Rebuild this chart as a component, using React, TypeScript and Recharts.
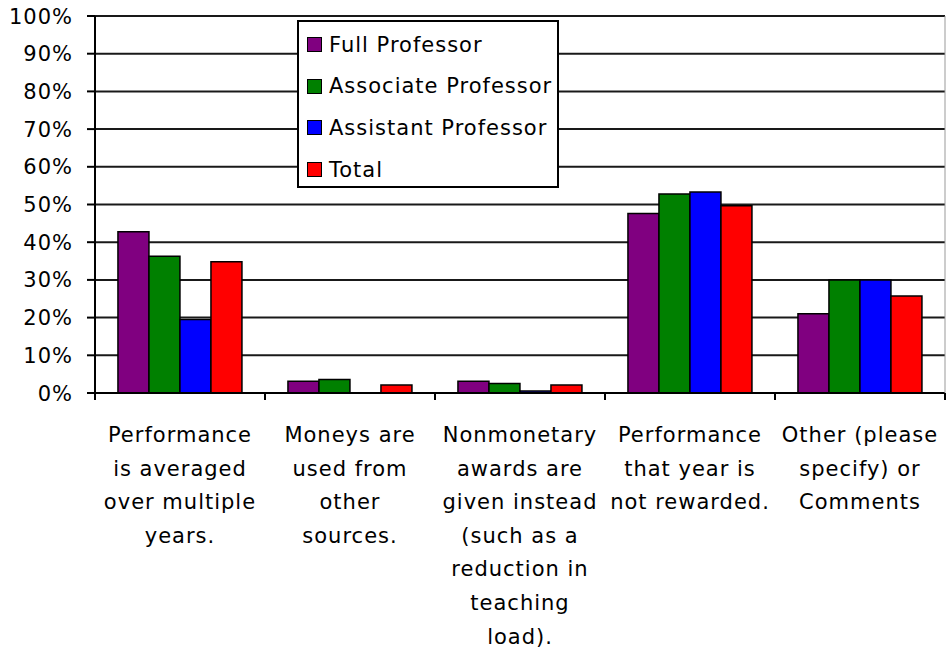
import React from "react";
import { BarChart, Bar, XAxis, YAxis, CartesianGrid, Legend } from "recharts";

const categories = [
  "Performance is averaged over multiple years.",
  "Moneys are used from other sources.",
  "Nonmonetary awards are given instead (such as a reduction in teaching load).",
  "Performance that year is not rewarded.",
  "Other (please specify) or Comments",
];

const tickLines = [
  ["Performance", "is averaged", "over multiple", "years."],
  ["Moneys are", "used from", "other", "sources."],
  ["Nonmonetary", "awards are", "given instead", "(such as a", "reduction in", "teaching", "load)."],
  ["Performance", "that year is", "not rewarded."],
  ["Other (please", "specify) or", "Comments"],
];

const fullProfessor = [42.8, 3.1, 3.1, 47.6, 21.0];
const associateProfessor = [36.3, 3.6, 2.5, 52.8, 30.0];
const assistantProfessor = [19.5, 0, 0.5, 53.3, 30.0];
const total = [34.8, 2.1, 2.1, 49.7, 25.7];

const yTicks = [0, 10, 20, 30, 40, 50, 60, 70, 80, 90, 100];

const seriesNames = ["Full Professor", "Associate Professor", "Assistant Professor", "Total"];
const seriesKeys = ["full", "associate", "assistant", "total"];
const seriesColors = ["#800080", "#008000", "#0000FF", "#FF0000"];

const data = categories.map((c, i) => ({
  category: c,
  full: fullProfessor[i],
  associate: associateProfessor[i],
  assistant: assistantProfessor[i],
  total: total[i],
}));

const W = 946;
const H = 651;
const Y_AXIS_W = 95;
const RIGHT_AXIS_W = 1;
const BAND = (W - Y_AXIS_W - RIGHT_AXIS_W) / categories.length;
const FONT = "'DejaVu Sans', Verdana, sans-serif";

const XTick = (props: any) => {
  const { x, y, index } = props;
  const lines = tickLines[index] || [];
  return (
    <g>
      <line x1={x - BAND / 2} y1={y} x2={x - BAND / 2} y2={y + 7} stroke="#000" strokeWidth={2} />
      {index === categories.length - 1 && (
        <line x1={x + BAND / 2} y1={y} x2={x + BAND / 2} y2={y + 7} stroke="#000" strokeWidth={2} />
      )}
      <text
        x={x}
        y={y}
        textAnchor="middle"
        fill="#000"
        fontSize={21}
        fontFamily={FONT}
        letterSpacing={1}
      >
        {lines.map((l, i) => (
          <tspan key={i} x={x} y={y + 49 + i * 33.6}>
            {l}
          </tspan>
        ))}
      </text>
    </g>
  );
};

const YTick = (props: any) => {
  const { x, y, payload } = props;
  return (
    <text
      x={x}
      y={y}
      dy="0.36em"
      textAnchor="end"
      fill="#000"
      fontSize={21}
      fontFamily={FONT}
      letterSpacing={1}
    >
      {`${payload.value}%`}
    </text>
  );
};

const LegendBox = () => (
  <div
    style={{
      width: 262,
      height: 168,
      boxSizing: "border-box",
      border: "2px solid #000",
      background: "#fff",
      paddingTop: 2,
      fontFamily: FONT,
      fontSize: 21,
      letterSpacing: 1,
      color: "#000",
    }}
  >
    {seriesNames.map((n, i) => (
      <div
        key={n}
        style={{ height: 41.6, display: "flex", alignItems: "center", paddingLeft: 8 }}
      >
        <span
          style={{
            display: "inline-block",
            width: 13,
            height: 13,
            background: seriesColors[i],
            border: "1px solid #000",
            marginRight: 7,
          }}
        />
        <span style={{ whiteSpace: "nowrap", lineHeight: "24px" }}>{n}</span>
      </div>
    ))}
  </div>
);

export default function App() {
  return (
    <div style={{ position: "absolute", left: 0, top: 0, width: W, height: H, background: "#fff" }}>
      <BarChart
        width={W}
        height={H}
        data={data}
        margin={{ top: 16, right: 0, left: 0, bottom: 0 }}
        barCategoryGap="13.5%"
        barGap={0}
        style={{ fontFamily: FONT }}
      >
        <CartesianGrid vertical={false} stroke="#000" strokeWidth={2} strokeOpacity={0.9} />
        <XAxis
          dataKey="category"
          height={258}
          tickLine={false}
          tickSize={0}
          tickMargin={0}
          interval={0}
          axisLine={{ stroke: "#000", strokeWidth: 2 }}
          tick={<XTick />}
        />
        <YAxis
          width={Y_AXIS_W}
          domain={[0, 100]}
          ticks={yTicks}
          interval={0}
          tickSize={8}
          tickMargin={14}
          tickLine={{ stroke: "#000", strokeWidth: 2 }}
          axisLine={{ stroke: "#000", strokeWidth: 2 }}
          tick={<YTick />}
        />
        <YAxis
          yAxisId="right"
          orientation="right"
          width={RIGHT_AXIS_W}
          domain={[0, 100]}
          tick={false}
          tickLine={false}
          axisLine={{ stroke: "#999", strokeWidth: 1 }}
        />
        <Legend
          layout="vertical"
          align="center"
          verticalAlign="middle"
          content={<LegendBox />}
          wrapperStyle={{ position: "absolute", left: 297, top: 20, width: 262, height: 168 }}
        />
        {seriesKeys.map((k, i) => (
          <Bar
            key={k}
            dataKey={k}
            name={seriesNames[i]}
            fill={seriesColors[i]}
            stroke="#000"
            strokeWidth={1.5}
            isAnimationActive={false}
          />
        ))}
      </BarChart>
    </div>
  );
}
